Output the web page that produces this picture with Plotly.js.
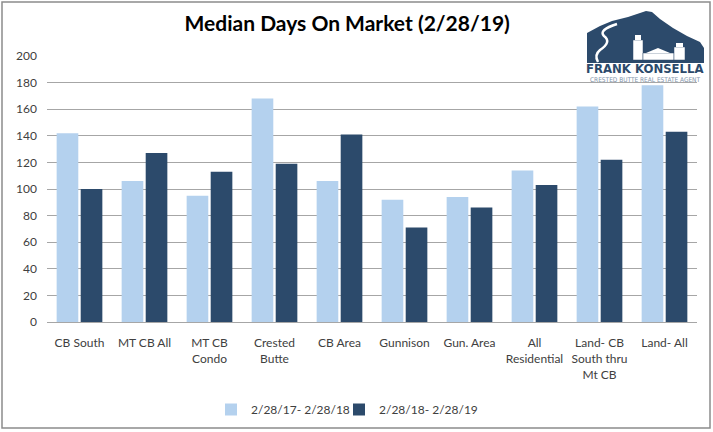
<!DOCTYPE html>
<html>
<head>
<meta charset="utf-8">
<script src="https://cdn.plot.ly/plotly-3.0.1.min.js"></script>
<style>html,body{margin:0;padding:0;background:#fff;}#chart{width:713px;height:432px;}</style>
</head>
<body>
<div id="chart"></div>
<script>
var categories = ["CB South", "MT CB All", "MT CB<br>Condo", "Crested<br>Butte", "CB Area", "Gunnison", "Gun. Area", "All<br>Residential", "Land- CB<br>South thru<br>Mt CB", "Land- All"];
var series1Name = "2/28/17- 2/28/18";
var series2Name = "2/28/18- 2/28/19";
var series1 = [142, 106, 95, 168, 106, 92, 94, 114, 162, 178];
var series2 = [100, 127, 113, 119, 141, 71, 86, 103, 122, 143];
var yTicks = [0, 20, 40, 60, 80, 100, 120, 140, 160, 180, 200];

var L = 47, R = 697, T = 56, B = 322;
function px(x){ return (x - L) / (R - L); }
function py(y){ return (B - y) / (B - T); }

var navy = "#2c4a6b";
var mountain = "M" + px(587) + "," + py(63) +
  " L" + px(587) + "," + py(33) +
  " L" + px(600) + "," + py(26) +
  " L" + px(612) + "," + py(21) +
  " L" + px(628) + "," + py(17) +
  " L" + px(646) + "," + py(11) +
  " L" + px(652) + "," + py(12) +
  " L" + px(660) + "," + py(19) +
  " L" + px(673) + "," + py(28) +
  " L" + px(687) + "," + py(36) +
  " L" + px(700) + "," + py(42) +
  " L" + px(704) + "," + py(48) +
  " L" + px(704) + "," + py(63) + " Z";
var river = "M" + px(617) + "," + py(24) +
  " Q" + px(598) + "," + py(30) + " " + px(604) + "," + py(36) +
  " Q" + px(612) + "," + py(42) + " " + px(600) + "," + py(50) +
  " Q" + px(594) + "," + py(55) + " " + px(598) + "," + py(62);

var shapes = [
  {type: "rect", xref: "paper", yref: "paper", x0: px(2), x1: px(710), y0: py(428), y1: py(2), line: {color: "#8c8c8c", width: 1.5}, fillcolor: "rgba(0,0,0,0)", layer: "above"},
  {type: "path", xref: "paper", yref: "paper", path: mountain, fillcolor: navy, line: {width: 0}, layer: "above"},
  {type: "path", xref: "paper", yref: "paper", path: river, fillcolor: "rgba(0,0,0,0)", line: {color: "#ffffff", width: 2.5}, layer: "above"},
  {type: "rect", xref: "paper", yref: "paper", x0: px(633), x1: px(643), y0: py(60), y1: py(40), fillcolor: "#ffffff", line: {color: navy, width: 0.5}, layer: "above"},
  {type: "rect", xref: "paper", yref: "paper", x0: px(635), x1: px(641), y0: py(40), y1: py(35), fillcolor: "#ffffff", line: {width: 0}, layer: "above"},
  {type: "rect", xref: "paper", yref: "paper", x0: px(643), x1: px(674), y0: py(60), y1: py(53), fillcolor: "#ffffff", line: {color: navy, width: 0.5}, layer: "above"},
  {type: "path", xref: "paper", yref: "paper", path: "M" + px(646) + "," + py(53) + " L" + px(658) + "," + py(48) + " L" + px(670) + "," + py(53) + " Z", fillcolor: "#ffffff", line: {width: 0}, layer: "above"},
  {type: "rect", xref: "paper", yref: "paper", x0: px(674), x1: px(685), y0: py(60), y1: py(47), fillcolor: "#ffffff", line: {color: navy, width: 0.5}, layer: "above"},
  {type: "rect", xref: "paper", yref: "paper", x0: px(676), x1: px(683), y0: py(47), y1: py(43), fillcolor: "#ffffff", line: {width: 0}, layer: "above"}
];

var data = [
  {type: "bar", name: series1Name, x: categories, y: series1, marker: {color: "#b4d1ee"}, hoverinfo: "y", legend: "legend"},
  {type: "bar", name: series2Name, x: categories, y: series2, marker: {color: navy}, hoverinfo: "y", legend: "legend2"}
];

var legendBase = {orientation: "h", xref: "container", yref: "container", xanchor: "left", y: 1 - 395 / 432, yanchor: "top", font: {size: 12, color: "#404040"}, itemwidth: 30, bgcolor: "rgba(0,0,0,0)"};

var layout = {
  width: 713, height: 432,
  margin: {l: L, r: 713 - R, t: T, b: 432 - B},
  paper_bgcolor: "#ffffff", plot_bgcolor: "#ffffff",
  font: {family: "Lato, 'Open Sans', sans-serif", size: 12, color: "#404040"},
  title: {text: "<b>Median Days On Market (2/28/19)</b>", x: 0.487, xanchor: "center", y: 0.962, yanchor: "top", font: {family: "Lato, sans-serif", size: 21, color: "#000000"}},
  barmode: "group", bargap: 0.26, bargroupgap: 0.1,
  showlegend: true,
  legend: Object.assign({}, legendBase, {x: 211 / 713}),
  legend2: Object.assign({}, legendBase, {x: 339 / 713}),
  xaxis: {tickfont: {size: 12, color: "#404040"}, showline: true, linecolor: "#a6a6a6", linewidth: 1, ticks: "", showgrid: false, fixedrange: true, ticklabelstandoff: 10, automargin: false},
  yaxis: {range: [0, 200], tickvals: yTicks, ticktext: yTicks.map(String), showgrid: true, gridcolor: "#a6a6a6", gridwidth: 1, zeroline: false, showline: false, ticks: "", ticklen: 0, tickfont: {size: 12, color: "#404040"}, fixedrange: true, ticklabelstandoff: 9, automargin: false},
  shapes: shapes,
  annotations: [
    {xref: "paper", yref: "paper", x: px(645), y: py(68.5), text: "<b>FRANK KONSELLA</b>", showarrow: false, xanchor: "center", yanchor: "middle", font: {family: "'DejaVu Sans Condensed', sans-serif", size: 13, color: navy}},
    {xref: "paper", yref: "paper", x: px(645), y: py(80), text: "CRESTED BUTTE REAL ESTATE AGENT", showarrow: false, xanchor: "center", yanchor: "middle", font: {family: "'DejaVu Sans Condensed', sans-serif", size: 6.5, color: "#7f93aa"}}
  ]
};

Plotly.newPlot("chart", data, layout, {displayModeBar: false, staticPlot: true});
</script>
</body>
</html>
